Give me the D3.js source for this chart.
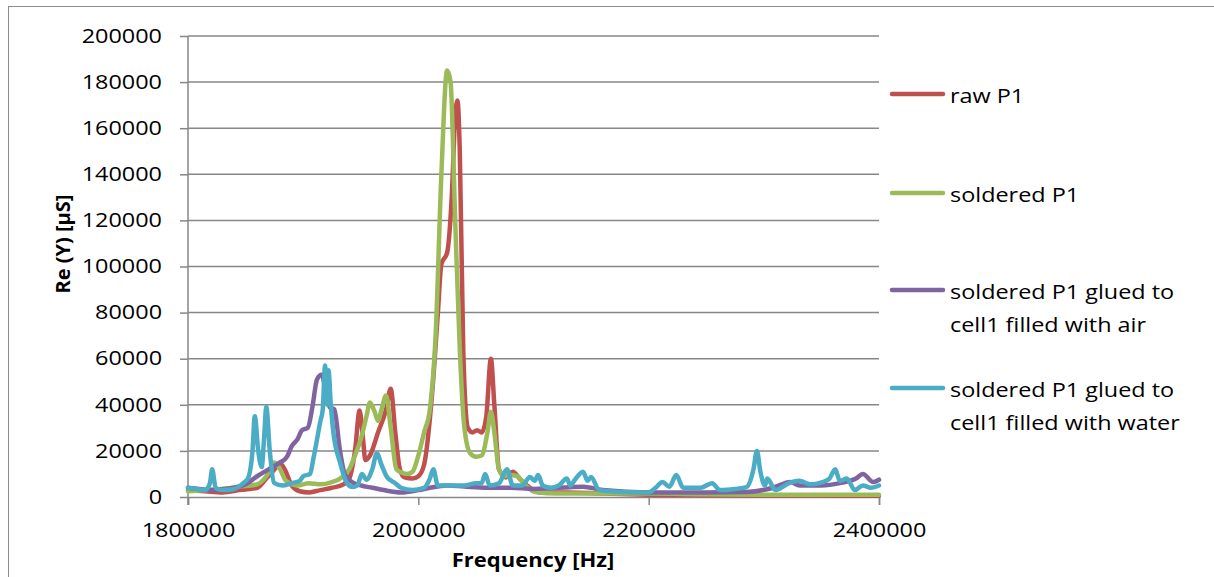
<!DOCTYPE html>
<html>
<head>
<meta charset="utf-8">
<script src="https://cdn.jsdelivr.net/npm/d3@7"></script>
<style>
  body { margin: 0; background: #fff; }
  text { font-family: "Open Sans", "Noto Sans", sans-serif; fill: #000; }
</style>
</head>
<body>
<script>
// Series data, frequency in kHz, Re(Y) in µS.
const rawFreq = [1800, 1815, 1830, 1845, 1860, 1868, 1875, 1880, 1884, 1890, 1897, 1905, 1915, 1925, 1935, 1940, 1945, 1949, 1952, 1954, 1958, 1965, 1972, 1976, 1980, 1984, 1988, 1995, 2000, 2005, 2012, 2017, 2020, 2025, 2029, 2032, 2034, 2036, 2039, 2043, 2047, 2051, 2055, 2059, 2063, 2066, 2070, 2076, 2082, 2088, 2097, 2105, 2130, 2160, 2200, 2250, 2300, 2350, 2400];
const rawVal = [3000, 2500, 2000, 3000, 4000, 8000, 12000, 14500, 12000, 5000, 2500, 2000, 3000, 4000, 5500, 8000, 20000, 37500, 25000, 16000, 18000, 28000, 38000, 47000, 28000, 12000, 8500, 8000, 9000, 14000, 45000, 80000, 101000, 106000, 130000, 165000, 172000, 150000, 64000, 30000, 28000, 29000, 28000, 35000, 60000, 40000, 12000, 8500, 11000, 8000, 4000, 2000, 2000, 1500, 1000, 800, 700, 600, 500];

const solderedFreq = [1800, 1815, 1830, 1845, 1860, 1868, 1875, 1880, 1885, 1895, 1905, 1915, 1925, 1932, 1940, 1945, 1950, 1955, 1958, 1962, 1965, 1968, 1972, 1976, 1981, 1986, 1990, 1995, 2000, 2005, 2010, 2015, 2020, 2025, 2028, 2032, 2036, 2040, 2045, 2050, 2055, 2060, 2063, 2066, 2070, 2075, 2080, 2086, 2093, 2103, 2120, 2150, 2200, 2250, 2300, 2350, 2400];
const solderedVal = [2500, 3000, 3500, 4500, 5500, 9000, 15000, 12000, 7000, 5000, 6000, 5500, 6500, 8000, 12000, 18000, 25000, 35000, 41000, 37000, 33000, 38000, 44000, 30000, 12000, 10500, 10000, 11000, 18000, 28000, 38000, 70000, 140000, 185000, 180000, 120000, 64000, 30000, 19000, 17500, 18000, 28000, 37000, 28000, 12000, 9000, 9500, 9000, 5000, 2000, 1500, 1500, 1500, 1200, 1000, 1000, 1000];

const airFreq = [1800, 1810, 1820, 1830, 1840, 1850, 1860, 1870, 1880, 1886, 1890, 1895, 1899, 1904, 1908, 1912, 1916, 1920, 1923, 1927, 1932, 1936, 1941, 1950, 1960, 1970, 1985, 2000, 2010, 2025, 2040, 2060, 2080, 2100, 2143, 2160, 2200, 2250, 2285, 2308, 2323, 2331, 2350, 2366, 2380, 2386, 2395, 2400];
const airVal = [4000, 3500, 3000, 3500, 4000, 5500, 9000, 12000, 15000, 17500, 22000, 25000, 29000, 30000, 39000, 51000, 53000, 45000, 39000, 38000, 20000, 10000, 7000, 5000, 4000, 3000, 2000, 3000, 4000, 5000, 4500, 4000, 4000, 3500, 4500, 3000, 2000, 2000, 2200, 4000, 6500, 5000, 5000, 6000, 8000, 10000, 6500, 7500];

const waterFreq = [1800, 1808, 1815, 1819, 1821, 1824, 1830, 1840, 1848, 1852, 1856, 1858, 1861, 1864, 1866, 1868, 1871, 1875, 1882, 1890, 1897, 1900, 1906, 1909, 1915, 1917, 1919, 1921, 1922, 1924, 1926, 1932, 1938, 1943, 1947, 1951, 1955, 1960, 1964, 1968, 1973, 1980, 1985, 1995, 2005, 2010, 2013, 2017, 2025, 2040, 2050, 2055, 2058, 2062, 2070, 2077, 2082, 2090, 2097, 2101, 2104, 2108, 2115, 2122, 2129, 2132, 2136, 2143, 2147, 2150, 2157, 2175, 2200, 2206, 2212, 2218, 2224, 2230, 2245, 2255, 2262, 2275, 2285, 2291, 2294, 2297, 2301, 2303, 2310, 2322, 2331, 2340, 2351, 2357, 2362, 2366, 2372, 2379, 2386, 2393, 2400];
const waterVal = [4000, 3500, 3000, 6000, 12000, 4000, 3000, 3500, 6000, 8000, 20000, 35000, 20000, 13000, 25000, 39000, 20000, 6000, 5000, 6000, 7000, 9000, 10000, 17000, 33000, 38000, 57000, 40000, 55000, 40000, 29000, 15000, 6000, 4300, 5000, 10000, 7500, 12000, 19000, 14000, 8500, 6000, 4000, 3000, 4000, 8000, 12000, 5000, 5000, 5000, 6000, 6000, 10000, 5000, 6000, 12000, 5000, 5000, 8700, 7000, 9500, 5000, 4000, 5000, 8000, 5000, 7500, 11000, 7000, 8700, 3000, 2200, 2000, 4000, 6500, 4500, 9500, 4000, 4000, 6000, 3000, 3500, 4300, 12000, 20000, 11000, 5000, 8000, 3000, 6000, 7000, 5500, 6500, 8000, 12000, 7000, 8000, 3000, 5000, 4000, 5000];

const seriesNames = [
  ['raw P1'],
  ['soldered P1'],
  ['soldered P1 glued to', 'cell1 filled with air'],
  ['soldered P1 glued to', 'cell1 filled with water']
];
const seriesColors = ['#C0504D', '#9BBB59', '#8064A2', '#4BACC6'];
const xTicks = [1800000, 2000000, 2200000, 2400000];
const yTicks = [0, 20000, 40000, 60000, 80000, 100000, 120000, 140000, 160000, 180000, 200000];

const width = 1214;
const height = 577;
const plotLeft = 188, plotRight = 879, plotTop = 36, plotBottom = 497;

const series = [
  { f: rawFreq, v: rawVal },
  { f: solderedFreq, v: solderedVal },
  { f: airFreq, v: airVal },
  { f: waterFreq, v: waterVal }
];

// The original picture is a little stretched sideways, so widen text to match.
function widen(sel, factor)
{
  sel.each(function()
  {
    const w = this.getComputedTextLength();
    d3.select(this)
      .attr('textLength', w * factor)
      .attr('lengthAdjust', 'spacingAndGlyphs');
  });
}

const svg = d3.select('body')
  .append('svg')
  .attr('width', width)
  .attr('height', height);

// Outer chart frame.
svg.append('rect')
  .attr('x', 8.5).attr('y', 6.5)
  .attr('width', width + 20).attr('height', height + 20)
  .attr('fill', 'none')
  .attr('stroke', '#8c8c8c')
  .attr('stroke-width', 1);

const xScale = d3.scaleLinear()
  .domain([1800000, 2400000])
  .range([plotLeft, plotRight]);
const yScale = d3.scaleLinear()
  .domain([0, 200000])
  .range([plotBottom, plotTop]);

// Gridlines.
svg.append('g')
  .selectAll('line')
  .data(yTicks.slice(1))
  .enter()
  .append('line')
  .attr('x1', plotLeft).attr('x2', plotRight)
  .attr('y1', (d) => yScale(d)).attr('y2', (d) => yScale(d))
  .attr('stroke', '#878787')
  .attr('stroke-width', 1.5);

// Axes.
const yAxis = d3.axisLeft(yScale)
  .tickValues(yTicks)
  .tickSize(8)
  .tickPadding(18)
  .tickFormat(d3.format('d'));
const xAxis = d3.axisBottom(xScale)
  .tickValues(xTicks)
  .tickSize(8)
  .tickPadding(18)
  .tickFormat(d3.format('d'));

const gy = svg.append('g')
  .attr('transform', 'translate(' + plotLeft + ',0)')
  .call(yAxis);
const gx = svg.append('g')
  .attr('transform', 'translate(0,' + plotBottom + ')')
  .call(xAxis);

[gx, gy].forEach((g) =>
{
  g.select('.domain').attr('stroke', '#878787').attr('stroke-width', 1.5);
  g.selectAll('.tick line').attr('stroke', '#878787').attr('stroke-width', 1.5);
  g.selectAll('.tick text')
    .attr('font-family', '"Open Sans", sans-serif')
    .attr('font-size', 19.5)
    .attr('fill', '#000')
    .call(widen, 1.2);
});
gy.select('.domain').attr('d', 'M0,' + plotTop + 'V' + (plotBottom + 8));

// Lines.
const line = d3.line()
  .x((d) => xScale(d[0] * 1000))
  .y((d) => yScale(d[1]))
  .curve(d3.curveMonotoneX);

series.forEach((s, i) =>
{
  const pts = s.f.map((f, j) => [f, s.v[j]]);
  svg.append('path')
    .datum(pts)
    .attr('d', line)
    .attr('fill', 'none')
    .attr('stroke', seriesColors[i])
    .attr('stroke-width', 4.5)
    .attr('stroke-linejoin', 'round')
    .attr('stroke-linecap', 'round');
});

// Axis titles.
svg.append('text')
  .attr('x', 533).attr('y', 567)
  .attr('text-anchor', 'middle')
  .attr('font-size', 20)
  .attr('font-weight', 'bold')
  .text('Frequency [Hz]')
  .call(widen, 1.1);

svg.append('text')
  .attr('transform', 'translate(70,244) rotate(-90)')
  .attr('text-anchor', 'middle')
  .attr('font-size', 20)
  .attr('font-weight', 'bold')
  .text('Re (Y) [µS]');

// Legend.
const legendY = [94, 193, 290, 388];
const legend = svg.append('g');
seriesNames.forEach((name, i) =>
{
  legend.append('line')
    .attr('x1', 892).attr('x2', 943)
    .attr('y1', legendY[i]).attr('y2', legendY[i])
    .attr('stroke', seriesColors[i])
    .attr('stroke-width', 4.5)
    .attr('stroke-linecap', 'round');
  name.forEach((t, k) =>
  {
    legend.append('text')
      .attr('x', 950)
      .attr('y', legendY[i] + 9 + k * 33)
      .attr('font-size', 19.5)
      .text(t)
      .call(widen, 1.2);
  });
});
</script>
</body>
</html>
